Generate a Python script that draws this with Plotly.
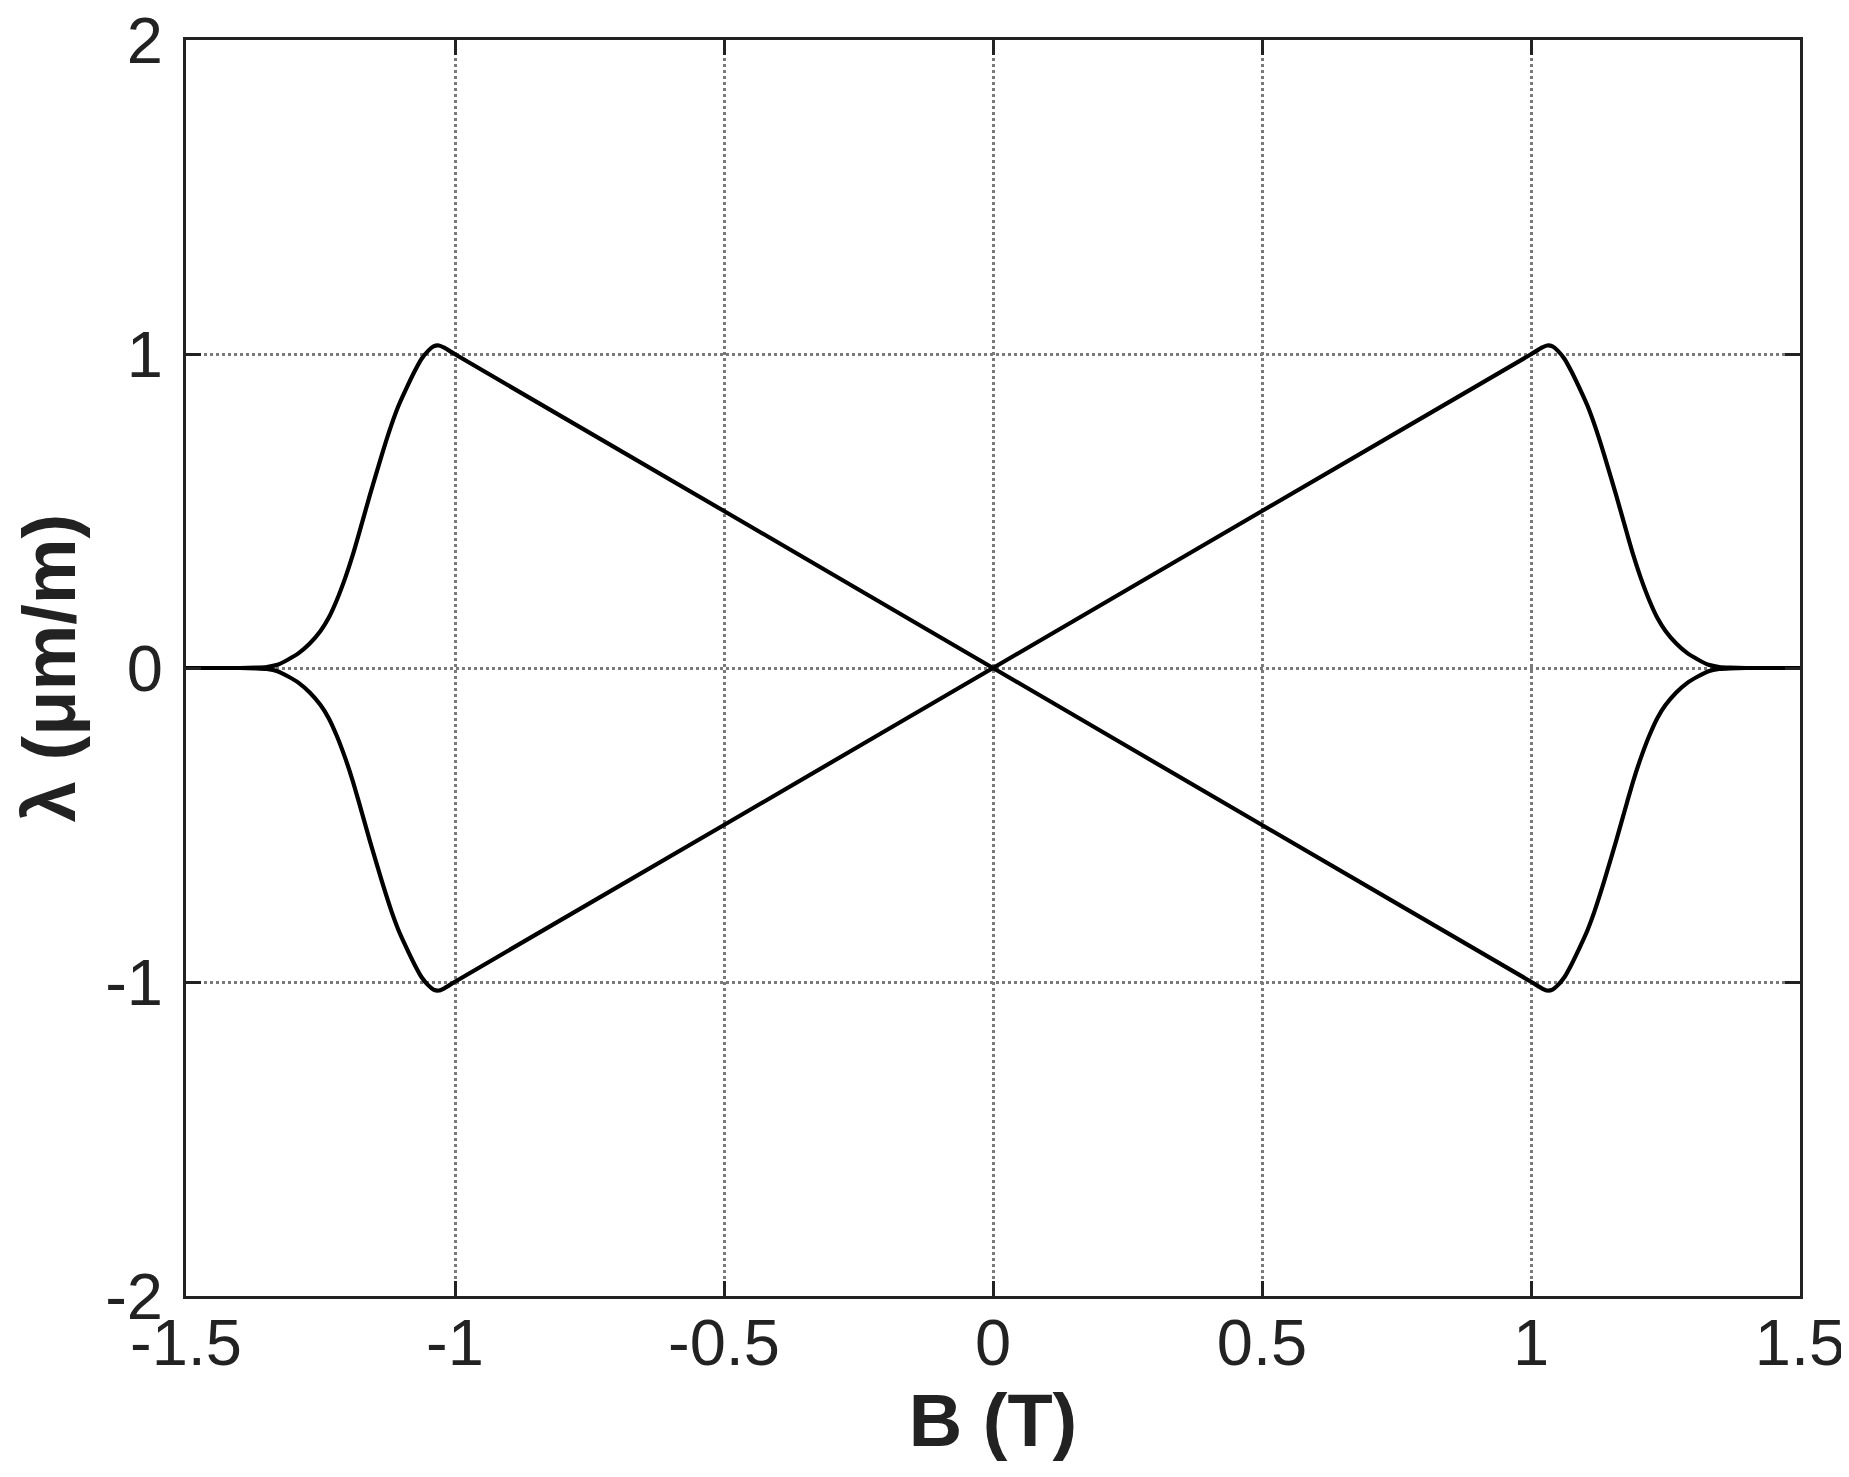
import plotly.graph_objects as go

# Field B (T)
b_values = [-1.5, -1.45, -1.40, -1.37, -1.35, -1.33, -1.31, -1.29, -1.27, -1.25,
            -1.235, -1.22, -1.204, -1.19, -1.179, -1.158, -1.136, -1.118, -1.105, -1.093,
            -1.075, -1.062, -1.05, -1.04, -1.03, -1.02, -1.0,
            -0.5, 0.0, 0.5,
            1.0, 1.02, 1.03, 1.04, 1.05, 1.062, 1.075,
            1.093, 1.105, 1.118, 1.136, 1.158, 1.179, 1.19, 1.204, 1.22, 1.235,
            1.25, 1.27, 1.29, 1.31, 1.33, 1.35, 1.37, 1.40, 1.45, 1.5]

# Magnetostriction lambda (um/m), branch falling through the origin
lambda_falling = [0.0, 0.0, 0.0, 0.001, 0.003, 0.010, 0.027, 0.048, 0.078, 0.118,
                  0.159, 0.215, 0.287, 0.360, 0.425, 0.552, 0.679, 0.775, 0.835, 0.881,
                  0.945, 0.985, 1.010, 1.024, 1.027, 1.020, 0.999,
                  0.500, 0.0, -0.500,
                  -0.999, -1.020, -1.027, -1.024, -1.010, -0.985, -0.945,
                  -0.881, -0.835, -0.775, -0.679, -0.552, -0.425, -0.360, -0.287, -0.215, -0.159,
                  -0.118, -0.078, -0.048, -0.027, -0.010, -0.003, -0.001, 0.0, 0.0, 0.0]

# Branch rising through the origin
lambda_rising = [0.0, 0.0, 0.0, -0.001, -0.003, -0.010, -0.027, -0.048, -0.078, -0.118,
                 -0.159, -0.215, -0.287, -0.360, -0.425, -0.552, -0.679, -0.775, -0.835, -0.881,
                 -0.945, -0.985, -1.010, -1.024, -1.027, -1.020, -0.999,
                 -0.500, 0.0, 0.500,
                 0.999, 1.020, 1.027, 1.024, 1.010, 0.985, 0.945,
                 0.881, 0.835, 0.775, 0.679, 0.552, 0.425, 0.360, 0.287, 0.215, 0.159,
                 0.118, 0.078, 0.048, 0.027, 0.010, 0.003, 0.001, 0.0, 0.0, 0.0]

x_ticks = [-1.5, -1, -0.5, 0, 0.5, 1, 1.5]
x_tick_labels = ["-1.5", "-1", "-0.5", "0", "0.5", "1", "1.5"]
y_ticks = [-2, -1, 0, 1, 2]
y_tick_labels = ["-2", "-1", "0", "1", "2"]

FONT = "Liberation Sans, Arial, Helvetica, sans-serif"
INK = "#222222"

fig = go.Figure()
for ys in (lambda_falling, lambda_rising):
    fig.add_trace(go.Scatter(
        x=b_values, y=ys, mode="lines",
        line=dict(color="#000000", width=4.2, shape="spline", smoothing=0.5),
        showlegend=False, hoverinfo="skip",
    ))

axis_common = dict(
    showline=True, linecolor=INK, linewidth=3, mirror="ticks",
    ticks="inside", ticklen=15, tickwidth=3, tickcolor=INK,
    showgrid=True, gridcolor="#7a7a7a", gridwidth=2.5, griddash="dot",
    zeroline=False, ticklabeloverflow="allow",
    tickfont=dict(family=FONT, size=65, color=INK),
)

fig.update_xaxes(
    range=[-1.5, 1.5], tickmode="array", tickvals=x_ticks, ticktext=x_tick_labels,
    title=dict(text="B (T)", font=dict(family=FONT, size=74, color=INK, weight="bold"),
               standoff=8),
    ticklabelstandoff=-12,
    **axis_common,
)
fig.update_yaxes(
    range=[-2, 2], tickmode="array", tickvals=y_ticks, ticktext=y_tick_labels,
    title=dict(text="λ (μm/m)", font=dict(family=FONT, size=74, color=INK, weight="bold"),
               standoff=28),
    ticklabelstandoff=7,
    **axis_common,
)

fig.update_layout(
    width=1849, height=1477,
    margin=dict(l=178, r=57, t=32, b=189, autoexpand=False),
    paper_bgcolor="white", plot_bgcolor="white",
)

fig.write_html("out.html")
